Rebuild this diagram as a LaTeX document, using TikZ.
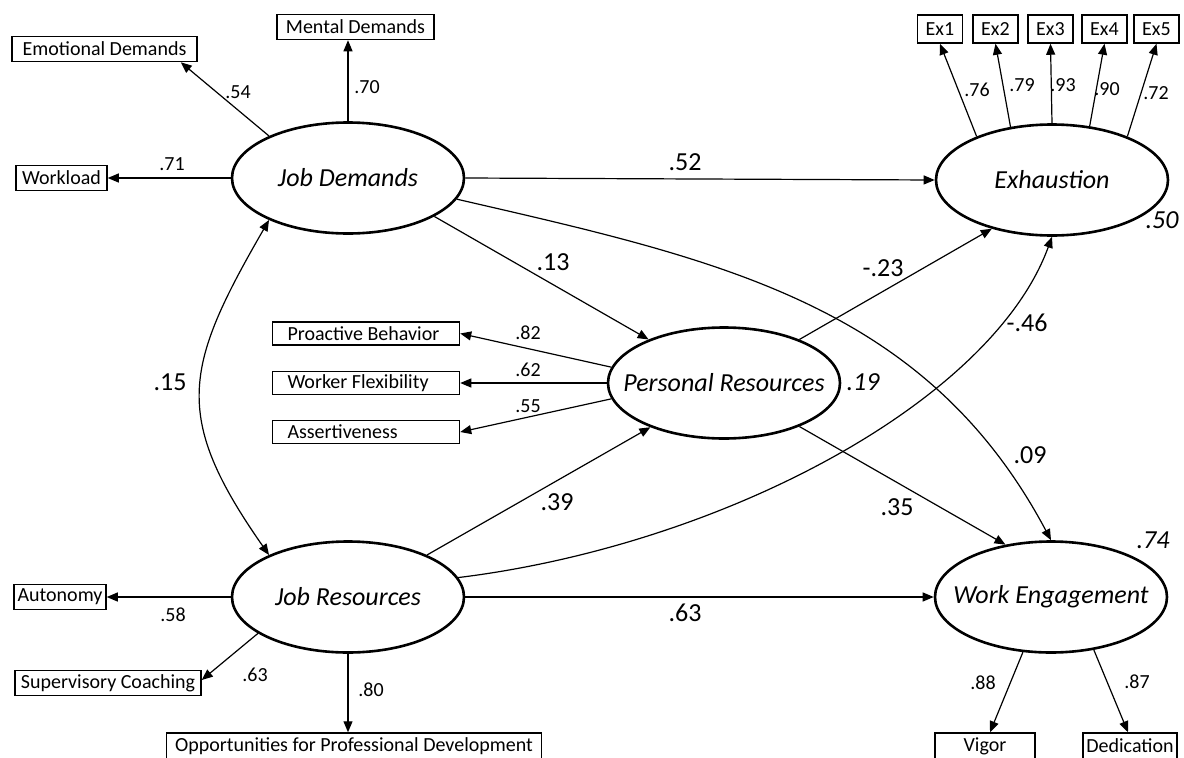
\documentclass[tikz,border=0pt]{standalone}
\usepackage{fontspec}
\setmainfont{Carlito}
\usetikzlibrary{arrows.meta,shapes.geometric}

\begin{document}
\begin{tikzpicture}[x=1pt, y=-1pt,
  latent/.style={draw, ellipse, line width=2.6pt, minimum width=232pt, minimum height=111pt, inner sep=0pt, label={[lattext]center:#1}},
  lattext/.style={inner sep=0pt, font=\fontsize{26}{31}\selectfont\itshape},
  obs/.style={draw, rectangle, line width=1.5pt, inner sep=0pt, minimum height=25pt, font=\fontsize{20}{24}\selectfont},
  listbox/.style={obs, minimum height=23pt, text width=157pt, align=flush left, inner xsep=15pt},
  coef/.style={inner sep=0pt, font=\fontsize{20}{24}\selectfont},
  bigcoef/.style={inner sep=0pt, font=\fontsize{26}{31}\selectfont},
  rsq/.style={inner sep=0pt, font=\fontsize{26}{31}\selectfont\itshape},
  arr/.style={line width=1.2pt, -{Triangle[length=11pt,width=9pt]}},
  twoarr/.style={line width=1.2pt, {Triangle[length=11pt,width=9pt]}-{Triangle[length=11pt,width=9pt]}},
]
\useasboundingbox (0,0) rectangle (1184,758);

% latent variables
\node[latent={Job Demands}] (jd) at (348,178) {};
\node[latent={Exhaustion}] (exh) at (1052,180) {};
\node[latent={Personal Resources}] (pr) at (724,383) {};
\node[latent={Job Resources}] (jr) at (348,597) {};
\node[latent={Work Engagement}] (we) at (1051,597) {};

% indicators
\node[obs, minimum width=185pt] (emo) at (104.5,49) {Emotional Demands};
\node[obs, minimum width=157pt] (men) at (355.5,27) {Mental Demands};
\node[obs, minimum width=91pt] (wl) at (61.5,178) {Workload};
\foreach \i/\xx in {1/940,2/995.5,3/1050.5,4/1104.5,5/1156.5}
  \node[obs, minimum width=45pt, minimum height=28pt] (ex\i) at (\xx,29) {Ex\i};
\node[listbox] (pb) at (366,333.5) {Proactive Behavior};
\node[listbox] (wf) at (366,383) {Worker Flexibility};
\node[listbox] (asr) at (366,432) {Assertiveness};
\node[obs, minimum width=92pt] (au) at (60,597) {Autonomy};
\node[obs, minimum width=186pt] (sc) at (108,683) {Supervisory Coaching};
\node[obs, minimum width=375pt, minimum height=26pt] (opd) at (354,746) {Opportunities for Professional Development};
\node[obs, minimum width=100pt, minimum height=26pt] (vig) at (985,746) {Vigor};
\node[obs, minimum width=94pt, minimum height=26pt] (ded) at (1130,746) {Dedication};

% measurement paths
\draw[arr] (jd.west) -- (wl.east);
\draw[arr] (jd.152) -- ([xshift=-17pt]emo.south east);
\draw[arr] (jd.north) -- (jd.north |- men.south);
\foreach \a/\i in {150/1,128/2,90/3,55/4,30/5}
  \draw[arr] (exh.\a) -- (ex\i.south);
\draw[arr] (pr.172) -- (pb.east);
\draw[arr] (pr.west) -- (wf.east);
\draw[arr] (pr.-172) -- (asr.east);
\draw[arr] (jr.west) -- (au.east);
\draw[arr] (jr.-158) -- ([yshift=3pt]sc.east);
\draw[arr] (jr.south) -- (jr.south |- opd.north);
\draw[arr] (we.-117) -- ([xshift=5pt]vig.north);
\draw[arr] (we.-51) -- ([xshift=-2pt]ded.north);

% structural paths
\draw[arr] (jd.east) -- (exh.west);
\draw[arr] (jd.-24) -- (pr.150);
\draw[arr] (jd.-11) to[out=-13, in=118] (we.north);
\draw[arr] (pr.30) -- (exh.219);
\draw[arr] (jr.10) to[out=7, in=-110, in looseness=0.65] (exh.south);
\draw[arr] (jr.28) -- (pr.211);
\draw[arr] (pr.-30) -- (we.131);
\draw[arr] (jr.east) -- (we.west);
\draw[twoarr] (jd.208) to[out=-120, in=125, looseness=1.3] (jr.152);

% loadings
\node[coef] (l71) at (172,164) {.71};
\node[coef] (l54) at (238,92) {.54};
\node[coef] (l70) at (367,87) {.70};
\node[coef] (l76) at (977,90) {.76};
\node[coef] (l79) at (1022,85) {.79};
\node[coef] (l93) at (1063,85) {.93};
\node[coef] (l90) at (1107,89) {.90};
\node[coef] (l72) at (1156,93) {.72};
\node[coef] (l82) at (528,333) {.82};
\node[coef] (l62) at (528,370) {.62};
\node[coef] (l55) at (528,406) {.55};
\node[coef] (l58) at (173,615) {.58};
\node[coef] (l63) at (255,675) {.63};
\node[coef] (l80) at (371,690) {.80};
\node[coef] (l88) at (983,683) {.88};
\node[coef] (l87) at (1137,682) {.87};

% path coefficients
\node[bigcoef] (b52) at (685,162) {.52};
\node[bigcoef] (b13) at (553,262) {.13};
\node[bigcoef] (b23) at (883,268) {-.23};
\node[bigcoef] (b46) at (1027,323) {-.46};
\node[bigcoef] (b09) at (1030,455) {.09};
\node[bigcoef] (b35) at (897,507) {.35};
\node[bigcoef] (b39) at (557,502) {.39};
\node[bigcoef] (b63) at (685,613) {.63};
\node[bigcoef] (b15) at (170,382) {.15};

% explained variance
\node[rsq] (r50) at (1162,220) {.50};
\node[rsq] (r19) at (863,382) {.19};
\node[rsq] (r74) at (1153,540) {.74};
\end{tikzpicture}
\end{document}
